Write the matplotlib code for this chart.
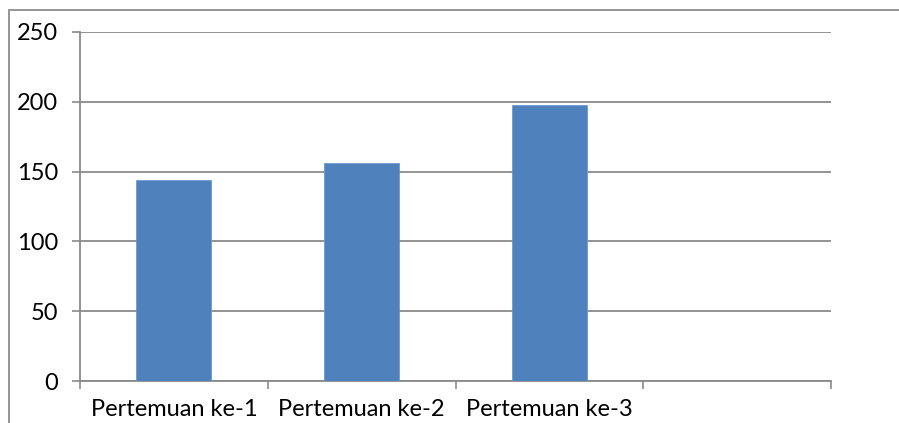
import matplotlib.pyplot as plt
from matplotlib.patches import Rectangle

categories = ["Pertemuan ke-1", "Pertemuan ke-2", "Pertemuan ke-3"]
values = [144, 156, 198]
n_slots = 4
y_ticks = [0, 50, 100, 150, 200, 250]

plt.rcParams['font.family'] = ['Lato', 'DejaVu Sans']

fig = plt.figure(figsize=(8.99, 4.23), dpi=100)
W, H = 899, 423

# chart frame (runs off the right and bottom edges)
fig.patches.append(Rectangle((9 / W, -0.1), 1.2, (H - 10) / H + 0.1, transform=fig.transFigure,
                             fill=False, edgecolor='#8c8c8c', linewidth=1.3))

ax = fig.add_axes([80 / W, (H - 381) / H, 751 / W, 349 / H])
grid_c = '#8a8a8a'

x = list(range(len(categories)))
ax.bar(x, values, width=0.4, color='#4F81BD', edgecolor='#6f9bd0', linewidth=0.6, zorder=3)

ax.set_xlim(-0.5, n_slots - 0.5)
ax.set_ylim(0, 250)
ax.set_yticks(y_ticks)
ax.yaxis.grid(True, color=grid_c, linewidth=1.3)
ax.set_axisbelow(True)

# category boundaries as major ticks, labels sit on the centres
ax.set_xticks([i - 0.5 for i in range(n_slots + 1)])
ax.set_xticklabels([])
ax.set_xticks(x, minor=True)
ax.set_xticklabels(categories, minor=True)
ax.tick_params(axis='x', which='major', length=6, width=1.2, color=grid_c, direction='out')
ax.tick_params(axis='x', which='minor', length=0, pad=13, labelsize=17)
ax.tick_params(axis='y', length=6, width=1.2, color=grid_c, pad=10, labelsize=17)

for side in ['top', 'right']:
    ax.spines[side].set_visible(False)
for side in ['left', 'bottom']:
    ax.spines[side].set_color(grid_c)
    ax.spines[side].set_linewidth(1.3)

fig.savefig('out.png', dpi=100)
plt.close(fig)
